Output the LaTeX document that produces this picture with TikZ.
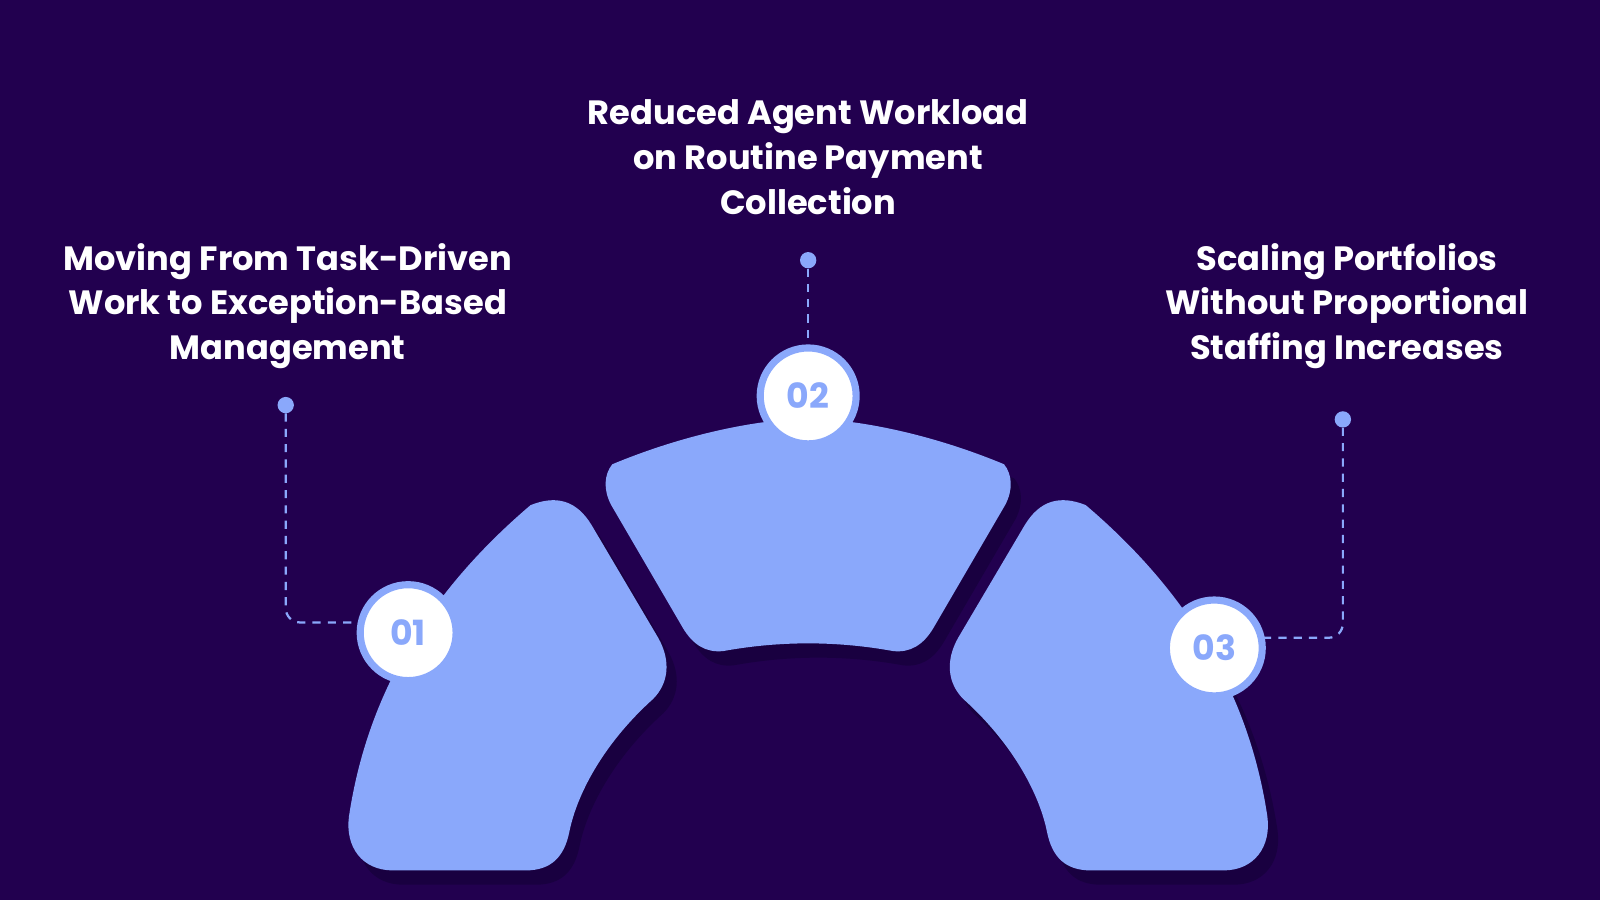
\documentclass[tikz,border=0pt]{standalone}
\usepackage{fontspec}
\setmainfont{Poppins}
\definecolor{bg}{HTML}{22004F}
\definecolor{shadowc}{HTML}{190040}
\definecolor{seg}{HTML}{8AA8FB}
\begin{document}
\begin{tikzpicture}[x=1pt,y=-1pt,
  lbl/.style={text=white,font=\fontsize{33}{44}\selectfont\bfseries,align=center},
  badge/.style={circle,fill=white,draw=seg,line width=7pt,minimum size=94pt,inner sep=0pt,text=seg,font=\fontsize{34}{34}\selectfont\bfseries},
  dotm/.style={circle,fill=seg,inner sep=0pt,minimum size=16pt},
  dashline/.style={draw=seg,line width=2.2pt,dash pattern=on 8pt off 7pt,rounded corners=14pt}]
\fill[bg] (0,0) rectangle (1568,882);
\useasboundingbox (0,0) rectangle (1568,882);
\def\leftseg{(520,495) .. controls (545,485) and (565,490) .. (580,515)
 -- (645,625) .. controls (658,648) and (655,670) .. (640,685)
 .. controls (590,730) and (565,780) .. (558,815)
 .. controls (553,840) and (540,853) .. (515,853)
 -- (385,853) .. controls (355,853) and (338,830) .. (342,800)
 .. controls (360,680) and (420,580) .. (520,495) -- cycle}
\def\rightseg{(1064,495) .. controls (1039,485) and (1019,490) .. (1004,515)
 -- (939,625) .. controls (926,648) and (929,670) .. (944,685)
 .. controls (994,730) and (1019,780) .. (1026,815)
 .. controls (1031,840) and (1044,853) .. (1069,853)
 -- (1199,853) .. controls (1229,853) and (1246,830) .. (1242,800)
 .. controls (1224,680) and (1164,580) .. (1064,495) -- cycle}
\def\midseg{(600,455) .. controls (660,430) and (730,412) .. (792,410)
 .. controls (854,412) and (924,430) .. (984,455)
 .. controls (992,465) and (993,480) .. (985,495)
 -- (915,615) .. controls (905,632) and (892,640) .. (875,638)
 .. controls (820,628) and (764,628) .. (709,638)
 .. controls (692,640) and (679,632) .. (669,615)
 -- (599,495) .. controls (591,480) and (592,465) .. (600,455) -- cycle}
\begin{scope}[shift={(10,14)}]
\fill[shadowc] \leftseg; \fill[shadowc] \midseg; \fill[shadowc] \rightseg;
\end{scope}
\fill[seg] \leftseg; \fill[seg] \midseg; \fill[seg] \rightseg;
\node[lbl] (t1) at (282,300) {Moving From Task-Driven\\Work to Exception-Based\\Management};
\node[lbl] (t2) at (792,154) {Reduced Agent Workload\\on Routine Payment\\Collection};
\node[lbl] (t3) at (1320,300) {Scaling Portfolios\\Without Proportional\\Staffing Increases};
\node[dotm] (d1) at (280,397) {};
\node[dotm] (d2) at (792,255) {};
\node[dotm] (d3) at (1316,411) {};
\node[badge] (c1) at (400,620) {01};
\node[badge] (c2) at (792,388) {02};
\node[badge] (c3) at (1190,635) {03};
\coordinate (e1) at (356,610);
\coordinate (e3) at (1236,625);
\draw[dashline] (d1) |- (e1);
\draw[dashline] (d2) -- (c2.north);
\draw[dashline] (d3) |- (e3);
\end{tikzpicture}
\end{document}
